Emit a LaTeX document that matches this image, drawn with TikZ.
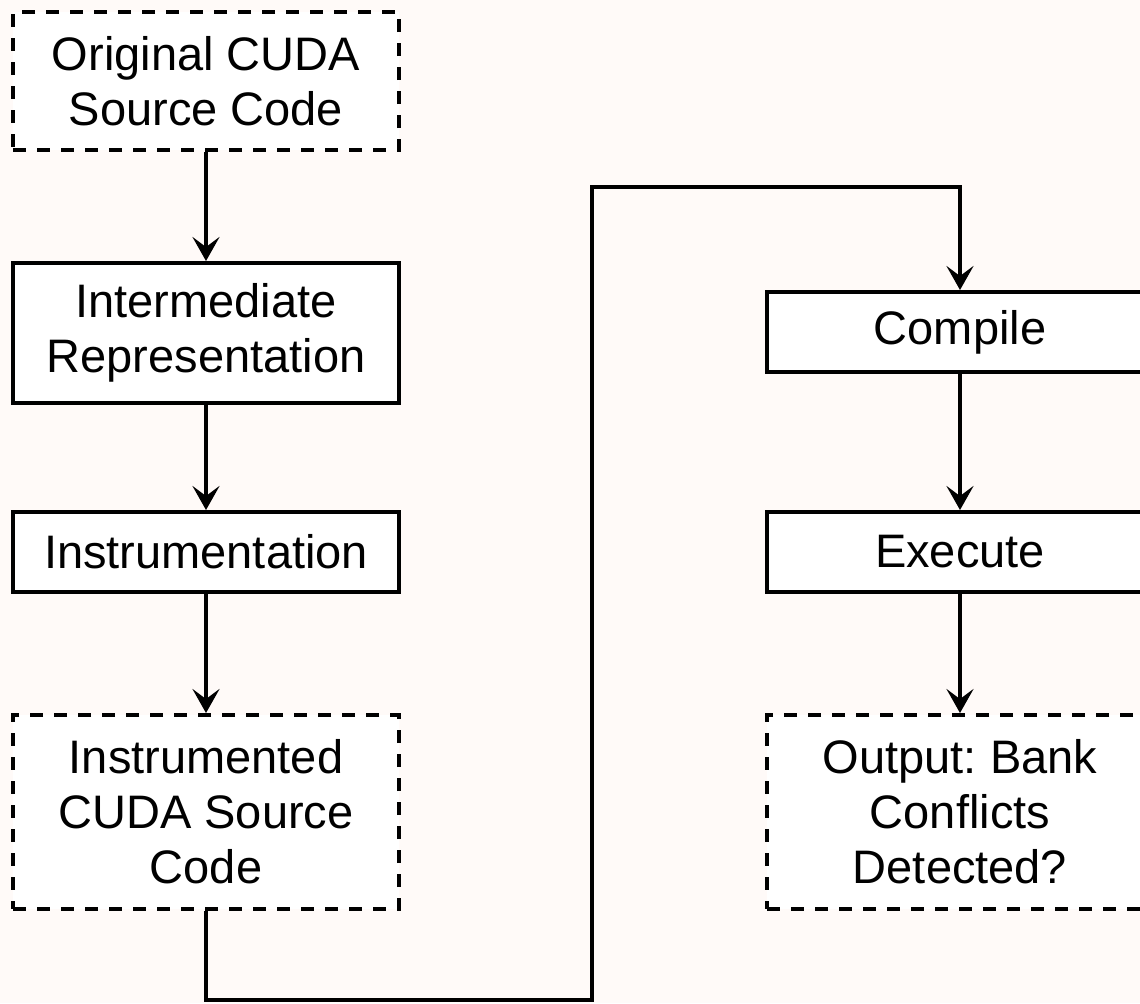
\documentclass[tikz,border=0pt]{standalone}
\usepackage{fontspec}
\setmainfont{Liberation Sans}
\usetikzlibrary{arrows.meta}
\definecolor{bgcol}{RGB}{255,250,248}
\frenchspacing
\tikzset{
  stepbox/.style={draw, line width=2pt, fill=white, minimum width=193pt,
    minimum height=40pt, align=center, inner sep=0pt,
    font=\fontsize{23.5pt}{27.5pt}\selectfont},
  filebox/.style={stepbox, dash pattern=on 6.5pt off 5.5pt},
  flow/.style={line width=2.4pt, -{Stealth[length=12pt, width=13.5pt, inset=5pt]}}
}
\begin{document}
\begin{tikzpicture}[x=0.5pt, y=-0.5pt]
    \fill[bgcol] (0,0) rectangle (1140,1003);
    \useasboundingbox (0,0) rectangle (1140,1003);
    \clip (0,0) rectangle (1140,1003);
    % left column
    \node[filebox, minimum height=69pt] (src) at (206,81) {Original CUDA\\Source Code};
    \node[stepbox, minimum height=70pt] (ir) at (206,333) {Intermediate\\Representation};
    \node[stepbox] (instr) at (206,552) {Instrumentation};
    \node[filebox, minimum height=97pt] (icode) at (206,812) {Instrumented\\CUDA Source\\Code};
    % right column
    \node[stepbox] (comp) at (960,332) {Compile};
    \node[stepbox] (exec) at (960,552) {Execute};
    \node[filebox, minimum height=97pt] (out) at (960,812) {Output: Bank\\Conflicts\\Detected?};
    \coordinate (low) at (592,1000);
    \coordinate (high) at (592,187);
    \draw[flow] (src) -- (ir);
    \draw[flow] (ir) -- (instr);
    \draw[flow] (instr) -- (icode);
    \draw[flow] (icode.south) |- (low) -- (high) -| (comp.north);
    \draw[flow] (comp) -- (exec);
    \draw[flow] (exec) -- (out);
\end{tikzpicture}
\end{document}
